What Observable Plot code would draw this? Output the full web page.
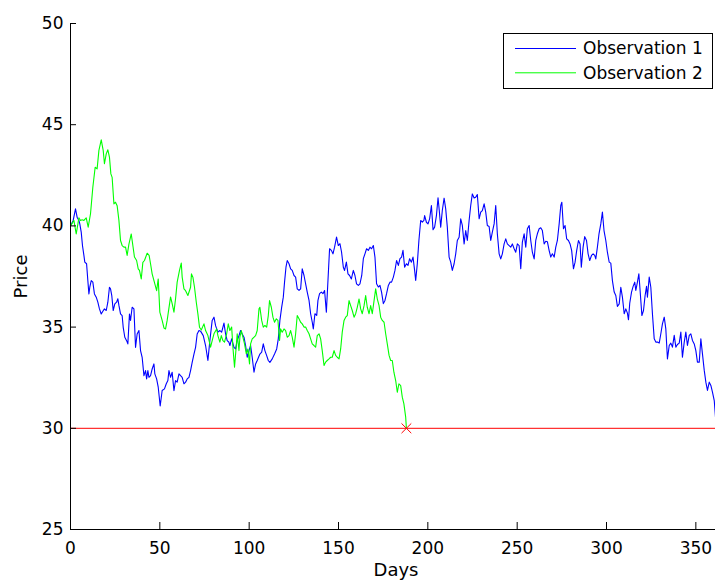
<!DOCTYPE html>
<html><head><meta charset="utf-8">
<script src="https://cdn.jsdelivr.net/npm/d3@7"></script>
<script src="https://cdn.jsdelivr.net/npm/@observablehq/plot@0.6"></script>
<style>body{margin:0;background:#fff} svg{display:block}</style>
</head><body><div id="chart"></div>
<script>
const seriesNames = ["Observation 1", "Observation 2"];
const seriesColors = ["#0000ff", "#00ff00"];
const xTicks = [0, 50, 100, 150, 200, 250, 300, 350];
const yTicks = [25, 30, 35, 40, 45, 50];
const threshold = 30;
const hitDay = 188;

const obs1Day = [0,1.5,2.8,3.7,4.7,5.2,6.0,6.7,7.5,8.0,9.0,9.7,10.3,10.8,11.6,12.5,13.4,14.4,15.3,16.2,17.2,18.1,19.0,20.0,20.9,21.8,22.4,23.1,23.9,24.8,25.8,26.5,27.1,28.0,28.9,29.5,30.4,31.4,32.1,33.0,33.6,34.5,35.5,36.4,37.3,38.3,39.2,40.1,41.1,42.0,42.6,43.3,43.9,44.8,45.7,46.7,47.2,48.2,49.1,50.2,51.3,52.6,53.6,54.5,55.1,56.0,56.9,57.9,58.8,59.7,60.7,61.6,62.5,63.5,64.4,65.3,66.3,67.2,68.1,69.1,70.0,70.9,71.9,72.8,74.3,75.6,76.9,78.0,79.3,80.3,81.2,82.5,83.6,84.6,85.9,86.8,87.7,88.7,89.2,90.2,91.5,92.4,93.3,94.3,95.2,96.1,97.1,98.0,98.9,99.9,100.8,101.7,102.7,103.6,104.5,106.0,107.0,107.9,108.8,109.8,110.7,111.6,112.9,114.2,115.4,116.3,117.2,118.2,119.1,119.8,120.6,121.3,122.3,123.2,124.1,125.1,126.0,126.9,127.9,128.8,129.7,130.7,131.6,132.5,133.5,134.4,135.3,135.9,136.8,137.8,138.5,139.4,140.4,141.3,142.2,143.2,144.1,145.0,146.0,146.9,147.8,148.9,149.9,150.8,151.7,152.7,153.4,154.4,155.3,156.2,157.2,158.3,159.2,160.1,161.1,162.0,163.0,163.9,164.8,165.7,166.7,167.6,168.5,169.5,170.4,171.3,172.3,173.2,174.1,175.1,176.0,176.9,177.9,178.8,179.7,180.7,181.6,182.5,183.5,184.4,185.3,186.1,187.0,188.0,188.9,189.8,190.8,191.7,192.6,193.2,194.1,195.0,196.0,196.9,197.8,198.2,199.2,200.1,201.0,202.0,202.9,203.8,204.8,205.7,206.4,207.2,208.1,209.1,210.0,210.9,211.9,212.8,213.7,214.7,215.6,216.5,217.5,218.4,219.3,220.3,221.2,222.1,223.1,224.0,224.9,225.9,226.8,227.7,228.7,229.6,230.5,231.5,232.4,233.3,234.3,235.2,236.1,237.1,238.0,238.9,239.9,240.8,241.7,242.7,243.6,244.5,245.5,246.4,247.3,248.3,249.2,250.1,251.1,252.0,252.9,253.9,254.8,255.7,256.7,257.6,258.5,259.5,260.4,261.3,262.3,263.2,264.1,265.1,266.0,266.9,267.9,268.8,269.7,270.7,271.6,272.5,273.5,274.4,275.0,275.9,276.8,277.7,278.7,279.6,280.5,281.5,282.4,283.3,284.3,285.2,285.9,286.9,287.8,288.8,289.7,290.6,291.6,292.5,293.4,294.0,294.9,295.8,296.8,297.7,298.6,299.6,300.5,301.5,302.4,303.3,304.3,305.2,306.1,307.1,308.0,308.9,309.9,310.8,311.7,312.3,313.0,314.0,314.9,315.8,316.4,317.3,318.1,318.8,319.8,320.7,321.6,322.4,322.9,323.9,324.8,325.7,326.7,327.6,328.5,329.5,330.4,331.3,332.3,333.2,334.1,335.1,336.0,336.9,337.9,338.8,339.7,340.7,341.6,342.5,343.5,344.4,345.3,346.3,347.2,348.1,349.1,350.0,350.9,351.9,352.8,353.7,354.7,355.6,356.5,357.5,358.4,359.3,360.3,361.0];
const obs1Price = [40.0,40.27,40.84,40.43,40.27,40.1,39.69,39.03,38.54,38.21,38.13,37.3,36.64,36.97,37.3,37.22,36.64,36.48,36.23,35.9,35.65,35.78,35.9,35.82,36.23,36.97,36.89,36.56,35.82,36.15,36.23,36.4,36.07,35.65,35.57,34.99,34.5,34.33,34.17,35.65,35.33,35.98,35.9,34.0,34.66,34.83,33.84,33.51,32.6,32.85,32.44,32.85,32.52,32.6,32.93,33.18,32.69,32.44,32.03,31.1,31.87,31.95,32.2,32.36,32.85,32.52,32.77,31.86,32.36,32.28,32.69,32.6,32.52,32.2,32.28,32.44,32.52,32.85,33.26,33.67,34.0,34.66,34.83,34.8,34.58,34.09,33.35,34.33,35.33,35.49,35.07,34.75,34.83,34.75,35.2,34.66,34.33,34.25,34.09,34.42,34.0,33.92,34.33,34.58,34.83,34.66,34.5,34.09,33.51,33.84,34.09,33.51,32.77,33.18,33.35,33.67,33.76,34.17,33.84,33.59,33.35,33.26,33.43,33.67,33.92,34.42,35.33,35.99,36.48,37.22,37.96,38.29,38.13,37.88,37.8,37.55,37.47,36.89,36.81,36.89,37.88,37.55,37.14,36.73,36.32,35.66,35.25,34.91,35.66,35.58,36.32,36.65,36.73,36.65,36.81,35.74,37.3,38.87,38.79,38.62,38.95,39.45,39.03,39.12,38.71,37.96,37.8,38.21,37.63,37.55,37.38,37.8,37.55,37.14,37.06,37.14,37.55,38.38,38.62,38.87,38.79,38.95,38.87,39.03,38.46,37.14,36.98,37.06,36.73,36.16,36.32,36.65,37.06,37.22,37.22,37.47,37.8,38.29,38.05,38.38,38.46,38.79,37.96,38.13,38.05,38.38,38.21,38.46,37.8,37.3,38.13,39.28,40.27,40.19,40.27,40.51,40.18,40.1,40.35,41.01,39.81,39.94,40.51,41.39,40.76,39.94,40.76,41.37,40.84,39.94,38.46,38.21,37.8,38.13,38.62,39.28,39.44,40.35,40.02,39.11,39.77,39.28,40.27,41.01,41.58,41.38,41.42,41.55,40.35,40.68,40.76,41.09,40.68,40.02,39.97,39.28,39.69,40.1,41.01,39.61,38.62,38.37,38.62,39.11,39.36,39.11,39.03,38.95,39.11,38.87,38.7,39.11,39.03,37.88,39.2,39.61,38.95,39.86,40.02,39.28,38.7,38.37,39.28,39.61,39.86,39.91,39.77,39.11,39.24,39.22,38.78,38.46,38.62,38.46,38.95,39.28,40.1,41.01,41.17,39.86,40.02,39.36,39.28,39.11,38.78,37.88,38.21,38.78,39.28,39.11,37.96,38.95,39.47,39.28,38.62,38.29,38.54,38.62,38.54,38.37,38.95,39.61,40.1,40.68,39.77,39.28,38.7,38.21,38.16,37.3,36.73,36.56,36.02,36.15,36.97,36.48,35.66,35.9,35.69,35.36,36.18,36.73,37.01,37.22,36.81,37.22,37.63,36.81,35.57,35.82,36.56,37.01,36.48,37.47,36.97,35.66,34.42,34.26,34.26,34.21,34.67,35.16,35.49,34.91,33.43,34.09,34.21,34.01,34.59,34.01,34.14,34.21,34.75,33.51,34.26,34.75,34.09,34.59,34.67,34.34,34.17,33.84,33.27,33.27,34.42,33.68,32.86,32.28,31.87,32.28,32.12,31.79,31.37,30.55];

const obs2Day = [0,1.9,3.2,4.7,5.6,6.5,7.5,8.8,9.9,11.2,12.5,13.8,14.9,15.9,17.2,18.3,19.0,20.0,20.9,21.8,22.6,23.3,24.3,25.2,26.1,27.1,28.0,28.9,29.9,30.8,31.7,32.7,34.0,34.9,35.8,37.0,37.9,38.6,39.6,40.5,41.4,42.9,44.0,44.8,45.7,47.2,48.2,49.1,50.0,51.3,52.3,53.2,54.1,56.0,56.9,57.9,58.8,59.7,61.0,62.0,62.5,63.5,64.4,65.7,67.2,67.7,68.5,69.4,70.4,71.3,72.2,73.2,74.7,75.6,76.9,78.4,79.3,80.3,81.8,82.5,83.6,84.4,85.3,86.2,87.4,88.3,89.2,90.2,90.9,91.8,92.8,93.3,94.3,94.8,95.6,96.5,97.4,98.4,99.3,100.2,100.8,101.7,102.7,103.6,104.5,105.5,106.0,107.0,107.9,108.8,109.8,110.7,111.4,112.4,113.3,114.2,115.2,116.1,117.0,117.6,118.5,119.5,120.4,121.3,122.3,123.2,124.1,125.1,126.0,126.9,127.9,128.8,129.7,130.7,131.6,132.5,133.5,134.4,135.3,136.3,137.2,138.1,139.1,140.0,140.9,141.9,142.8,143.7,144.7,145.6,146.5,147.5,148.4,149.3,150.3,151.2,152.1,153.1,154.0,154.9,155.9,156.8,157.7,158.7,159.6,160.5,161.5,162.4,163.3,164.3,165.2,166.1,167.1,168.0,168.9,169.9,170.8,171.7,172.7,173.6,174.5,175.5,176.4,177.3,178.3,179.2,180.1,181.0,182.0,182.9,183.8,184.8,185.7,186.6,187.6,188.0];
const obs2Price = [40.0,40.27,39.6,40.4,40.27,40.3,40.27,40.4,39.94,40.6,41.91,42.9,42.82,43.73,44.25,43.73,43.07,43.56,43.76,43.4,42.57,42.4,41.09,41.17,41.0,40.27,39.28,39.03,38.95,38.95,38.54,39.1,39.6,39.03,38.46,38.29,37.88,37.8,37.38,38.2,38.29,38.65,38.54,38.13,37.63,37.14,36.8,37.38,35.74,35.33,34.96,34.91,35.33,36.49,36.16,35.74,36.4,37.22,37.8,38.16,37.47,36.89,36.8,36.56,36.97,37.63,37.47,36.97,36.23,35.65,34.99,34.86,35.16,34.83,34.58,34.01,34.33,34.67,34.91,34.58,34.26,34.58,34.33,34.26,34.67,35.16,34.83,35.0,34.01,33.02,34.09,34.67,33.84,34.5,34.83,34.5,34.17,33.68,33.92,33.18,34.17,34.42,34.5,34.58,34.83,35.9,35.98,35.33,35.0,35.08,35.0,35.57,36.31,35.98,35.49,35.24,35.41,35.33,34.34,34.91,34.75,34.91,34.83,34.5,34.58,34.83,34.5,34.01,34.67,35.57,35.41,35.24,35.16,35.0,35.0,34.83,34.67,34.42,34.17,34.09,34.01,34.58,34.67,34.42,33.84,33.1,33.27,33.35,33.43,33.51,33.51,33.84,33.6,33.51,33.43,33.92,34.75,35.33,35.49,35.57,36.31,36.06,35.82,35.49,35.66,35.98,36.39,35.9,35.66,36.06,36.56,35.98,35.66,36.06,35.66,36.31,36.89,36.4,36.06,35.49,35.33,35.24,34.67,34.17,33.6,33.35,33.35,32.77,32.36,31.78,32.2,32.11,31.54,31.21,30.55,30.0];

const obs1 = obs1Day.map((d, i) => ({day: d, price: obs1Price[i]}));
const obs2 = obs2Day.map((d, i) => ({day: d, price: obs2Price[i]}));

const font = "'DejaVu Sans', 'Liberation Sans', Arial, sans-serif";

const chart = Plot.plot({
  width: 715, height: 580,
  marginLeft: 70, marginRight: 0, marginTop: 23, marginBottom: 51,
  style: {fontFamily: font, fontSize: "17px", color: "#000", background: "#fff", overflow: "visible"},
  x: {domain: [0, 361]},
  y: {domain: [25, 50]},
  marks: [
    Plot.ruleY([threshold], {stroke: "#ff0000", strokeWidth: 1}),
    Plot.line(obs1, {x: "day", y: "price", stroke: seriesColors[0], strokeWidth: 1.1}),
    Plot.line(obs2, {x: "day", y: "price", stroke: seriesColors[1], strokeWidth: 1.1}),
    Plot.dot([{day: hitDay, price: threshold}], {x: "day", y: "price", symbol: "times", r: 4.5, stroke: "#ff0000", strokeWidth: 1}),
    Plot.axisX(xTicks, {tickSize: 0, tickPadding: 12, label: null, fontSize: 17, fill: "#000"}),
    Plot.axisY(yTicks, {tickSize: 0, tickPadding: 7, label: null, fontSize: 17, fill: "#000"}),
    // inward tick marks (MATLAB style)
    Plot.tickX(xTicks, {x: d => d, insetTop: 499, stroke: "#000", strokeWidth: 1}),
    Plot.tickY(yTicks, {y: d => d, insetRight: 639, stroke: "#000", strokeWidth: 1}),
    Plot.ruleX([0], {stroke: "#000"}),
    Plot.ruleY([25], {stroke: "#000"}),
    Plot.text(["Days"], {text: d => d, frameAnchor: "bottom", dx: 3, dy: 46, fontSize: 18, fill: "#000"}),
    Plot.text(["Price"], {text: d => d, frameAnchor: "left", textAnchor: "middle", dx: -49, dy: 0, rotate: -90, fontSize: 18, fill: "#000"})
  ]
});

// legend box inside plot (upper right)
const svg = d3.select(chart);
const lg = svg.append("g").attr("font-family", font).attr("font-size", 17).attr("text-anchor", "start");
lg.append("rect").attr("x", 503.5).attr("y", 33.5).attr("width", 209).attr("height", 55)
  .attr("fill", "#fff").attr("stroke", "#000").attr("stroke-width", 1);
seriesNames.forEach((name, i) => {
  const yy = 48.5 + i * 24.3;
  lg.append("line").attr("x1", 515).attr("x2", 576).attr("y1", yy).attr("y2", yy)
    .attr("stroke", seriesColors[i]).attr("stroke-width", 1);
  lg.append("text").attr("x", 583).attr("y", yy).attr("dy", "0.35em").attr("fill", "#000")
    .attr("text-anchor", "start").text(name);
});

document.getElementById("chart").appendChild(chart);
</script>
</body></html>
